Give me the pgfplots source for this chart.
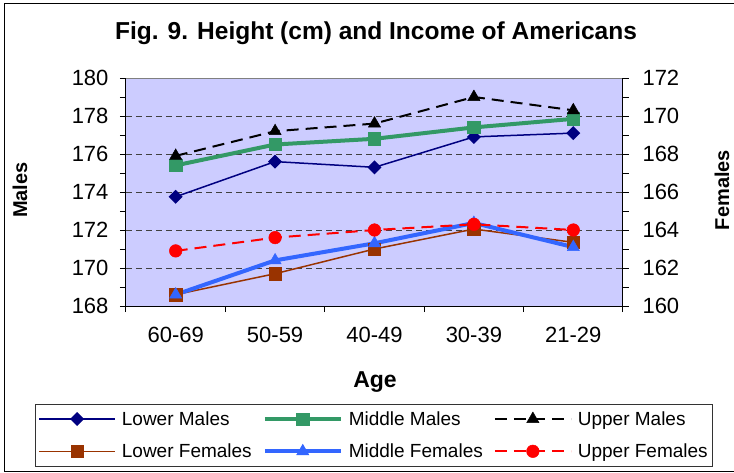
\documentclass[border=0pt]{standalone}
\usepackage{fontspec}
\setmainfont{Liberation Sans}
\usepackage{pgfplots}
\pgfplotsset{compat=1.18}

\definecolor{plotbg}{HTML}{CCCCFF}
\definecolor{lowm}{HTML}{000080}
\definecolor{midm}{HTML}{339966}
\definecolor{lowf}{HTML}{993300}
\definecolor{midf}{HTML}{3366FF}

\pgfplotsset{
  common/.style={
    scale only axis, width=497pt, height=228pt,
    xmin=-0.5, xmax=4.5,
    at={(0pt,0pt)}, anchor=south west,
    clip=false,
    /pgf/number format/assume math mode=true,
    tick label style={font=\fontsize{22}{26}\selectfont},
    tick align=outside,
    major tick length=6pt, minor tick length=6pt,
    tick style={black, line width=1pt},
    axis line style={black, line width=1pt, -},
  },
  lm/.style={lowm, line width=1.5pt, mark=square*, mark size=4.2pt, mark options={rotate=45, solid}},
  mm/.style={midm, line width=4pt, mark=square*, mark size=6.2pt, mark options={solid, line width=0.5pt}},
  um/.style={black, line width=2pt, dash pattern=on 12pt off 7pt, mark=triangle*, mark size=7pt, mark options={solid, line width=0.5pt}},
  lf/.style={lowf, line width=1.5pt, mark=square*, mark size=6.2pt, mark options={solid, line width=0.5pt}},
  mf/.style={midf, line width=4pt, mark=triangle*, mark size=7pt, mark options={solid, line width=0.5pt}},
  uf/.style={red, line width=2pt, dash pattern=on 12pt off 7pt, mark=*, mark size=6.3pt, mark options={solid, line width=0.5pt}},
}

\begin{document}
\begin{tikzpicture}
\useasboundingbox (-126pt,-166pt) rectangle (608pt,306pt);
\draw[line width=1pt] (620pt,302pt) -- (-121pt,302pt) -- (-121pt,-165pt) -- (620pt,-165pt);

% males, left axis
\begin{axis}[common,
  axis x line*=bottom, axis y line*=left,
  axis background/.style={fill=plotbg},
  ymin=168, ymax=180, ytick={168,170,...,180}, minor y tick num=1,
  xtick={0,...,4}, xticklabels={60-69,50-59,40-49,30-39,21-29},
  minor xtick={-0.5,0.5,...,4.5},
  major x tick style={draw=none},
  xticklabel style={yshift=-12pt},
  yticklabel style={xshift=-8pt},
  ymajorgrids,
  y grid style={black!75, line width=1pt, dash pattern=on 6pt off 4pt},
]
\draw[gray, line width=1pt] (rel axis cs:0,1) -- (rel axis cs:1,1);
\addplot[lm] coordinates {(0,173.75) (1,175.6) (2,175.3) (3,176.9) (4,177.1)};
\addplot[mm] coordinates {(0,175.4) (1,176.5) (2,176.8) (3,177.4) (4,177.85)};
\addplot[um] coordinates {(0,175.9) (1,177.2) (2,177.6) (3,179.0) (4,178.3)};
\end{axis}

% females, right axis
\begin{axis}[common,
  axis x line=none, axis y line*=right,
  ymin=160, ymax=172, ytick={160,162,...,172}, minor y tick num=1,
  yticklabel style={xshift=10pt},
  legend columns=3,
  legend cell align=left,
  legend image code/.code={\draw[mark repeat=2, mark phase=2, #1] plot coordinates {(0pt,0pt) (38pt,0pt) (76pt,0pt)};},
  legend style={
    at={(-0.1831,-0.4298)}, anchor=north west,
    draw=black!80, line width=0.8pt, fill=white,
    font=\fontsize{19}{22}\selectfont,
    inner xsep=3pt, inner ysep=5pt, row sep=13pt,
    /tikz/every odd column/.append style={column sep=4pt},
    /tikz/every even column/.append style={column sep=9pt},
  },
]
\addlegendimage{lm}\addlegendentry{Lower Males}
\addlegendimage{mm}\addlegendentry{Middle Males}
\addlegendimage{um}\addlegendentry{Upper Males}
\addplot[lf] coordinates {(0,160.6) (1,161.7) (2,163.0) (3,164.05) (4,163.35)};
\addlegendentry{Lower Females}
\addplot[mf] coordinates {(0,160.6) (1,162.4) (2,163.3) (3,164.37) (4,163.1)};
\addlegendentry{Middle Females}
\addplot[uf] coordinates {(0,162.9) (1,163.6) (2,164.0) (3,164.3) (4,164.0)};
\addlegendentry{Upper Females}
\end{axis}

\node[font=\bfseries\fontsize{24.5}{28}\selectfont] at (250pt,273pt) {Fig. 9. Height (cm) and Income of Americans};
\node[font=\bfseries\fontsize{23}{27}\selectfont] at (249pt,-76pt) {Age};
\node[font=\bfseries\fontsize{20}{24}\selectfont, rotate=90] at (-106pt,116pt) {Males};
\node[font=\bfseries\fontsize{20}{24}\selectfont, rotate=90] at (596pt,116pt) {Females};
\end{tikzpicture}
\end{document}
